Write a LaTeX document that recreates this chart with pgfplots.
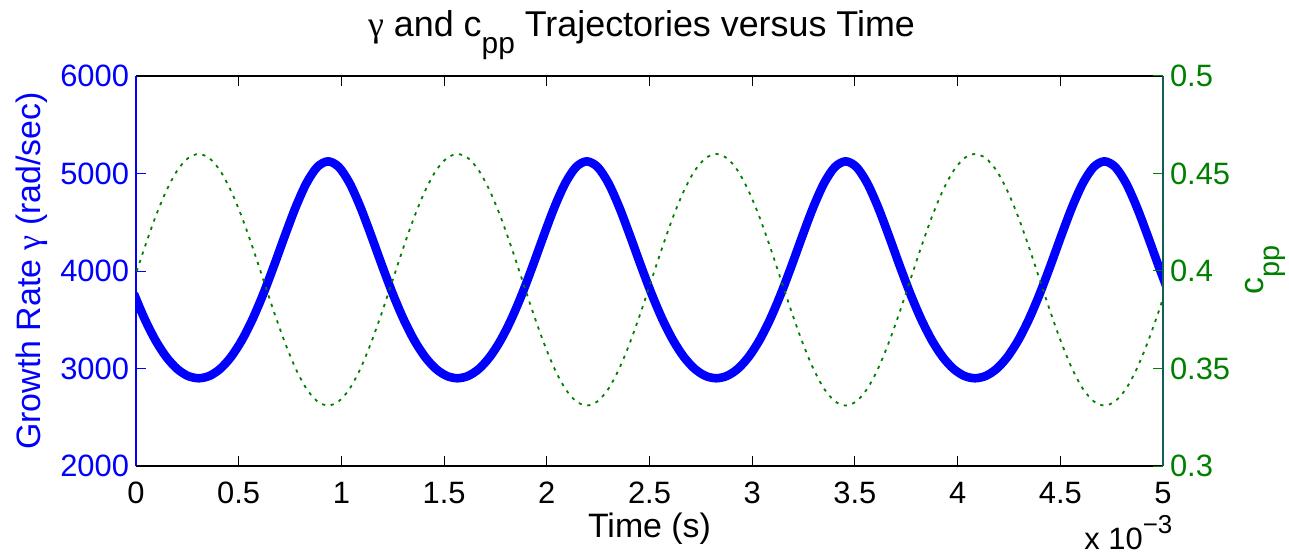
\documentclass[border=0pt]{standalone}
\usepackage{fontspec}
\setmainfont{Liberation Sans}
\newfontfamily\grk{Liberation Serif}
\usepackage{pgfplots}
\pgfplotsset{compat=1.18}
\usepackage{pgfplotstable}
\definecolor{mblue}{rgb}{0,0,1}
\definecolor{mgreen}{rgb}{0,0.5,0}
\definecolor{spinegreen}{rgb}{0.08,0.36,0.34}
\newcommand\FT{\fontsize{15.5}{18}\selectfont}
\newcommand\FL{\fontsize{17}{20}\selectfont}
\newcommand\FH{\fontsize{18}{21}\selectfont}
\newcommand\sub[2]{\raisebox{-0.5em}{\fontsize{#1}{#1}\selectfont #2}}

\pgfplotstableread{
t gamma c
-0.01 3766.2 0.3955
0.0425 3506.3 0.4122
0.095 3288.6 0.4278
0.1475 3118.2 0.4411
0.2 2996.7 0.4514
0.2525 2924.1 0.4578
0.305 2900.0 0.4600
0.3575 2924.1 0.4578
0.41 2996.7 0.4514
0.4625 3118.2 0.4411
0.515 3288.6 0.4278
0.5675 3506.3 0.4122
0.62 3766.2 0.3955
0.6725 4057.9 0.3788
0.725 4363.3 0.3633
0.7775 4655.5 0.3499
0.83 4901.2 0.3396
0.8825 5066.4 0.3332
0.935 5124.7 0.3310
0.9875 5066.4 0.3332
1.04 4901.2 0.3396
1.0925 4655.5 0.3499
1.145 4363.3 0.3633
1.1975 4057.9 0.3788
1.25 3766.2 0.3955
1.3025 3506.3 0.4122
1.355 3288.6 0.4278
1.4075 3118.2 0.4411
1.46 2996.7 0.4514
1.5125 2924.1 0.4578
1.565 2900.0 0.4600
1.6175 2924.1 0.4578
1.67 2996.7 0.4514
1.7225 3118.2 0.4411
1.775 3288.6 0.4278
1.8275 3506.3 0.4122
1.88 3766.2 0.3955
1.9325 4057.9 0.3788
1.985 4363.3 0.3633
2.0375 4655.5 0.3499
2.09 4901.2 0.3396
2.1425 5066.4 0.3332
2.195 5124.7 0.3310
2.2475 5066.4 0.3332
2.3 4901.2 0.3396
2.3525 4655.5 0.3499
2.405 4363.3 0.3633
2.4575 4057.9 0.3788
2.51 3766.2 0.3955
2.5625 3506.3 0.4122
2.615 3288.6 0.4278
2.6675 3118.2 0.4411
2.72 2996.7 0.4514
2.7725 2924.1 0.4578
2.825 2900.0 0.4600
2.8775 2924.1 0.4578
2.93 2996.7 0.4514
2.9825 3118.2 0.4411
3.035 3288.6 0.4278
3.0875 3506.3 0.4122
3.14 3766.2 0.3955
3.1925 4057.9 0.3788
3.245 4363.3 0.3633
3.2975 4655.5 0.3499
3.35 4901.2 0.3396
3.4025 5066.4 0.3332
3.455 5124.7 0.3310
3.5075 5066.4 0.3332
3.56 4901.2 0.3396
3.6125 4655.5 0.3499
3.665 4363.3 0.3633
3.7175 4057.9 0.3788
3.77 3766.2 0.3955
3.8225 3506.3 0.4122
3.875 3288.6 0.4278
3.9275 3118.2 0.4411
3.98 2996.7 0.4514
4.0325 2924.1 0.4578
4.085 2900.0 0.4600
4.1375 2924.1 0.4578
4.19 2996.7 0.4514
4.2425 3118.2 0.4411
4.295 3288.6 0.4278
4.3475 3506.3 0.4122
4.4 3766.2 0.3955
4.4525 4057.9 0.3788
4.505 4363.3 0.3633
4.5575 4655.5 0.3499
4.61 4901.2 0.3396
4.6625 5066.4 0.3332
4.715 5124.7 0.3310
4.7675 5066.4 0.3332
4.82 4901.2 0.3396
4.8725 4655.5 0.3499
4.925 4363.3 0.3633
4.9775 4057.9 0.3788
5.03 3766.2 0.3955
}\data

\begin{document}
\begin{tikzpicture}
\path[use as bounding box] (0,0) rectangle (644.5bp,278bp);
\begin{axis}[
  name=ax,
  at={(68bp,45bp)}, anchor=south west,
  width=513.5bp, height=195bp, scale only axis,
  xmin=0, xmax=5, ymin=2000, ymax=6000,
  axis y line*=left,
  clip mode=individual,
  tick align=inside,
  major tick length=5bp,
  axis line style={line width=0.6bp},
  x axis line style={black},
  y axis line style={mblue},
  xtick={0,0.5,1,1.5,2,2.5,3,3.5,4,4.5,5},
  xticklabels={0,0.5,1,1.5,2,2.5,3,3.5,4,4.5,5},
  ytick={2000,3000,4000,5000,6000},
  yticklabels={2000,3000,4000,5000,6000},
  xtick style={black, line width=0.5bp},
  ytick style={mblue, line width=0.5bp},
  xticklabel style={font=\FT, black, yshift=-4.5bp},
  yticklabel style={font=\FT, text=mblue},
  xlabel={Time (s)},
  xlabel style={font=\FL, at={(axis description cs:0.5,-0.1615)}, anchor=center},
  ylabel={Growth Rate {\grk γ} (rad/sec)},
  ylabel style={font=\FL, text=mblue, at={(axis description cs:-0.1013,0.5)}, anchor=center},
  title={{\grk γ} and c\sub{15}{pp} Trajectories versus Time},
  title style={font=\FH, at={(axis description cs:0.4922,1.0718)}, anchor=base},
]
\addplot[mblue, line width=4.3bp, smooth, line join=round] table[x=t, y=gamma]{\data};
\end{axis}
\node[font=\FT, anchor=base west, inner sep=0pt] at ([xshift=474bp, yshift=-41.5bp]ax.south west) {x 10\raisebox{0.5em}{\fontsize{13}{13}\selectfont −3}};
\begin{axis}[
  at={(68bp,45bp)}, anchor=south west,
  width=513.5bp, height=195bp, scale only axis,
  xmin=0, xmax=5, ymin=0.3, ymax=0.5,
  axis x line=none,
  axis y line*=right,
  tick align=inside,
  major tick length=5bp,
  y axis line style={spinegreen, line width=0.6bp},
  ytick={0.3,0.35,0.4,0.45,0.5},
  yticklabels={0.3,0.35,0.4,0.45,0.5},
  ytick style={mgreen, line width=0.5bp},
  yticklabel style={font=\FT, text=mgreen},
  ylabel={c\sub{14.5}{pp}},
  ylabel style={font=\FL, text=mgreen, rotate=0, at={(axis description cs:1.0974,0.5026)}, anchor=base},
]
\addplot[mgreen, line width=0.9bp, dash pattern=on 1.6bp off 2.8bp, smooth] table[x=t, y=c]{\data};
\end{axis}
\end{tikzpicture}
\end{document}
